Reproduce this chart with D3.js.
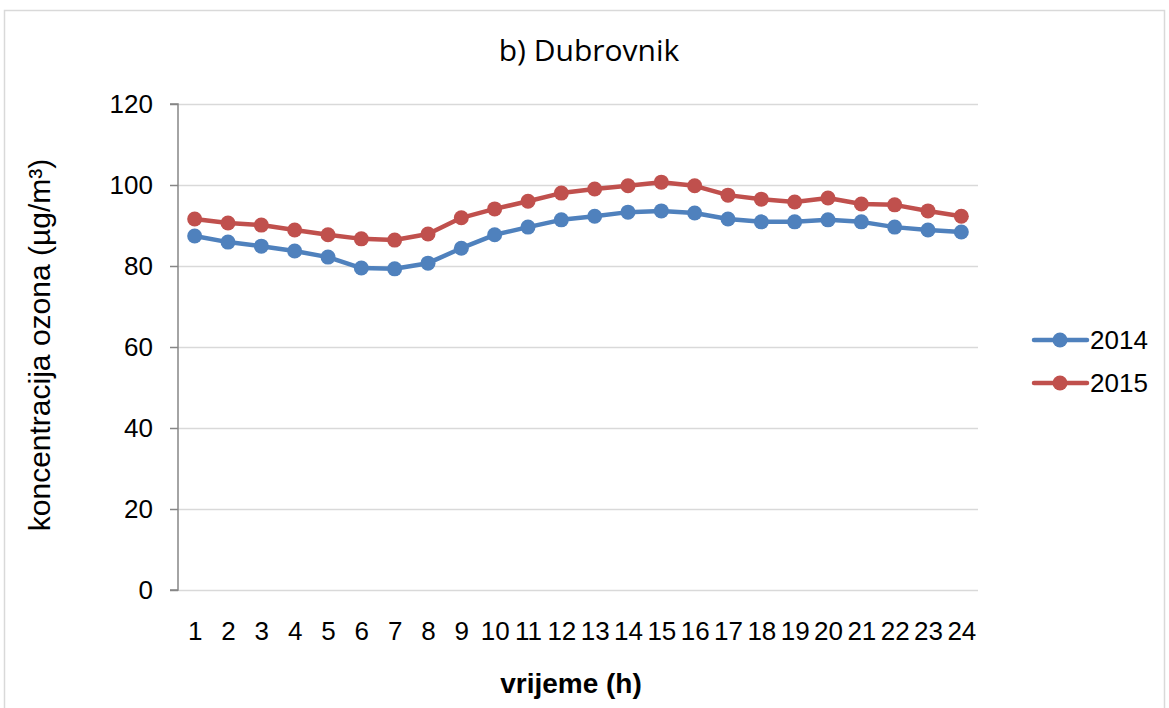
<!DOCTYPE html>
<html><head><meta charset="utf-8">
<script src="https://cdn.jsdelivr.net/npm/d3@7"></script>
<style>body{margin:0;background:#fff}svg{display:block;font-family:"Liberation Sans",Arial,sans-serif}</style>
</head><body><svg id="c" width="1169" height="708"></svg>
<script>
const hours = d3.range(1,25).map(String);
const values2014 = [87.4,85.9,84.9,83.7,82.2,79.5,79.3,80.7,84.4,87.7,89.6,91.4,92.3,93.3,93.6,93.1,91.6,90.9,90.9,91.4,90.9,89.6,88.9,88.4];
const values2015 = [91.6,90.6,90.1,88.9,87.7,86.7,86.4,87.9,91.9,94.1,96.0,98.0,99.0,99.8,100.7,99.8,97.5,96.5,95.8,96.8,95.3,95.1,93.6,92.3];
const seriesNames = ["2014","2015"];
const colors = ["#4F81BD","#C0504D"];
const yTicks = [0,20,40,60,80,100,120];

const svg = d3.select("#c");
svg.append("rect").attr("x",4.5).attr("y",10.5).attr("width",1160).attr("height",710)
  .attr("fill","#fff").attr("stroke","#d9d9d9").attr("stroke-width",1.5);

const L=178,R=978,T=104,B=590;
const x = d3.scalePoint().domain(hours).range([L,R]).padding(0.5);
const y = d3.scaleLinear().domain([0,120]).range([B,T]);

// gridlines
svg.append("g").selectAll("line").data(yTicks).join("line")
  .attr("x1",L).attr("x2",R).attr("y1",d=>y(d)+0.5).attr("y2",d=>y(d)+0.5)
  .attr("stroke","#d9d9d9").attr("stroke-width",1.5);

// y axis
const ya = svg.append("g").attr("transform",`translate(${L},0)`)
  .call(d3.axisLeft(y).tickValues(yTicks).tickSize(8).tickPadding(17));
ya.select(".domain").attr("stroke","#868686").attr("stroke-width",1.5).attr("d",`M-8,${T}H0V${B}H-8`);
ya.selectAll(".tick line").attr("stroke","#868686").attr("stroke-width",1.5);
ya.selectAll(".tick text").attr("font-size",26).attr("fill","#000").attr("font-family","Liberation Sans, Arial, sans-serif");

// x axis labels
const xa = svg.append("g").attr("transform",`translate(0,${B})`)
  .call(d3.axisBottom(x).tickSize(0).tickPadding(32));
xa.select(".domain").remove();
xa.selectAll(".tick text").attr("font-size",26).attr("fill","#000").attr("font-family","Liberation Sans, Arial, sans-serif");

// lines
const data = [values2014, values2015];
const line = d3.line().x((d,i)=>x(hours[i])).y(d=>y(d));
data.forEach((vals,k)=>{
  svg.append("path").datum(vals).attr("d",line).attr("fill","none")
    .attr("stroke",colors[k]).attr("stroke-width",4.5).attr("stroke-linejoin","round").attr("stroke-linecap","round");
  svg.append("g").selectAll("circle").data(vals).join("circle")
    .attr("cx",(d,i)=>x(hours[i])).attr("cy",d=>y(d)).attr("r",7.5).attr("fill",colors[k]);
});

// title
svg.append("text").attr("x",589).attr("y",61).attr("text-anchor","middle")
  .attr("font-family","Open Sans, Noto Sans, sans-serif")
  .attr("font-size",30).text("b) Dubrovnik");
// axis titles
svg.append("text").attr("transform","translate(50,345) rotate(-90)").attr("text-anchor","middle")
  .attr("font-size",30).text("koncentracija ozona (µg/m³)");
svg.append("text").attr("x",571).attr("y",693).attr("text-anchor","middle")
  .attr("font-size",28).attr("font-weight","bold").text("vrijeme (h)");

// legend
seriesNames.forEach((n,k)=>{
  const ly = 340 + k*43;
  svg.append("line").attr("x1",1034).attr("x2",1087).attr("y1",ly).attr("y2",ly)
    .attr("stroke",colors[k]).attr("stroke-width",4.5).attr("stroke-linecap","round");
  svg.append("circle").attr("cx",1060).attr("cy",ly).attr("r",7.5).attr("fill",colors[k]);
  svg.append("text").attr("x",1090).attr("y",ly+9).attr("font-size",26).text(n);
});
</script></body></html>
